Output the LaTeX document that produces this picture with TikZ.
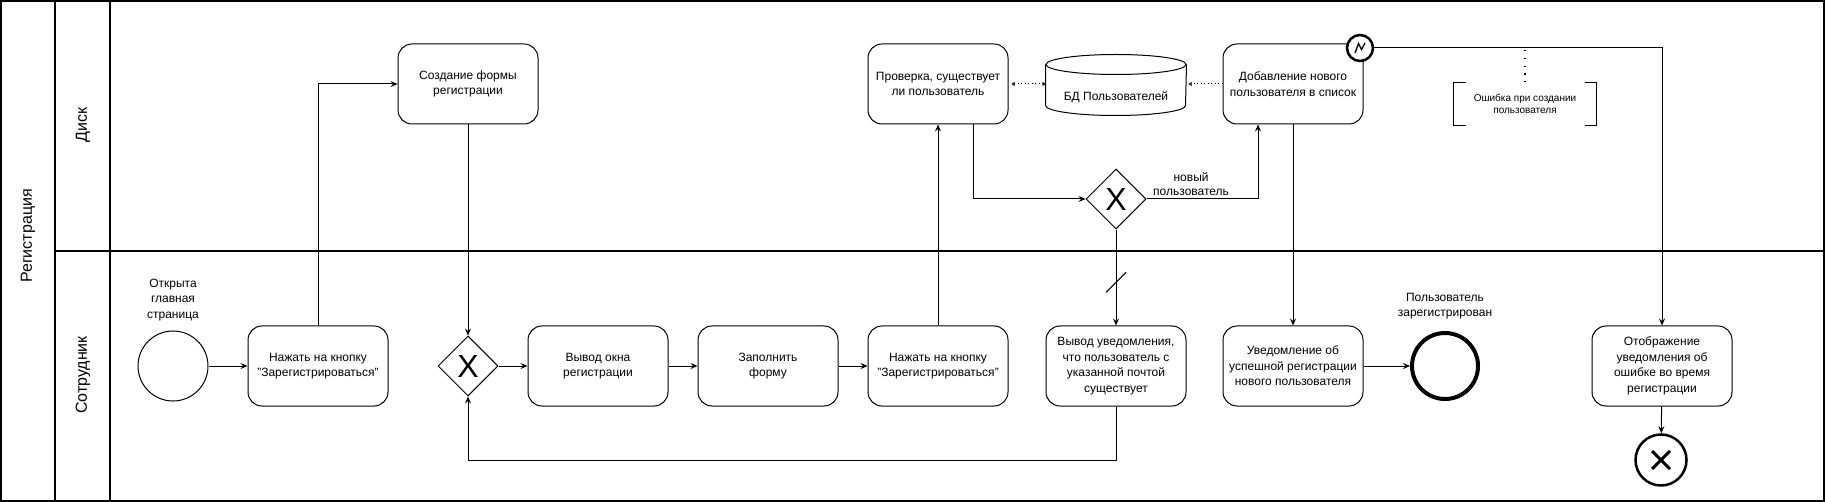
\documentclass[tikz,border=0pt]{standalone}
\usepackage{fontspec}
\setmainfont{Liberation Sans}
\usetikzlibrary{shapes.geometric, arrows.meta, positioning, calc}

\begin{document}
\begin{tikzpicture}[x=1pt, y=-1pt, line width=1pt,
    font=\fontsize{12}{15.5}\selectfont,
    task/.style={draw, rounded corners=14pt, minimum width=140pt, minimum height=80pt, align=center, inner sep=2pt},
    gate/.style={draw, diamond, minimum size=60pt, inner sep=0pt, font=\fontsize{32}{32}\selectfont},
    flow/.style={-{Stealth[length=7pt, width=6pt, inset=2.5pt]}},
    assoc/.style={dash pattern=on 1pt off 2.5pt},
    lanetitle/.style={rotate=90, font=\fontsize{16}{16}\selectfont},
    evlabel/.style={align=center},
    note/.style={minimum width=142pt, minimum height=42pt, align=center, font=\fontsize{10}{12}\selectfont}]
\useasboundingbox (0,0) rectangle (1825,502);

% pool and lanes
\draw[line width=2pt] (1,1) rectangle (1824,501);
\draw[line width=2pt] (55,1) -- (55,501);
\draw[line width=2pt] (110,1) -- (110,501);
\draw[line width=2pt] (55,251) -- (1824,251);
\node[lanetitle] at (28,236) {Регистрация};
\node[lanetitle] at (83,125) {Диск};
\node[lanetitle] at (83,375) {Сотрудник};

% lane "Сотрудник"
\node[draw, circle, minimum size=70pt] (start) at (173,366) {};
\node[evlabel, above=6pt of start] {Открыта\\главная\\страница};
\node[task] (t1) at (318,366) {Нажать на кнопку\\\symbol{34}Зарегистрироваться\symbol{34}};
\node[gate] (g1) at (468,366) {X};
\node[task] (win) at (598,366) {Вывод окна\\регистрации};
\node[task] (fill) at (768,366) {Заполнить\\форму};
\node[task] (t2) at (938,366) {Нажать на кнопку\\\symbol{34}Зарегистрироваться\symbol{34}};
\node[task] (vn) at (1116,366) {Вывод уведомления,\\что пользователь с\\указанной почтой\\существует};
\node[task] (succ) at (1293,366) {Уведомление об\\успешной регистрации\\нового пользователя};
\node[draw, circle, line width=4pt, minimum size=66pt] (endok) at (1445,366) {};
\node[evlabel, above=8pt of endok] {Пользователь\\зарегистрирован};
\node[task] (disp) at (1662,366) {Отображение\\уведомления об\\ошибке во время\\регистрации};
\node[draw, circle, line width=2.5pt, minimum size=51pt] (errend) at (1661,460) {};
\draw[line width=3pt] ([shift={(-9pt,-9pt)}]errend.center) -- ([shift={(9pt,9pt)}]errend.center);
\draw[line width=3pt] ([shift={(-9pt,9pt)}]errend.center) -- ([shift={(9pt,-9pt)}]errend.center);

% lane "Диск"
\node[task] (form) at (468,84) {Создание формы\\регистрации};
\node[task] (chk) at (938,84) {Проверка, существует\\ли пользователь};
\node[minimum width=140pt, minimum height=60pt] (db) at (1116,85) {};
\draw ([yshift=-10pt]db.north west) -- ([yshift=10pt]db.south west)
    arc[start angle=180, end angle=360, x radius=70pt, y radius=10pt] -- ([yshift=-10pt]db.north east);
\draw ([yshift=-10pt]db.north) ellipse [x radius=70pt, y radius=10pt];
\node at ([yshift=-12pt]db.center) {БД Пользователей};
\node[task] (add) at (1293,84) {Добавление нового\\пользователя в список};
\node[gate] (g2) at (1116,199) {X};
\node[draw, circle, line width=2.5pt, minimum size=26pt, fill=white] (errev) at (1360,48) {};
\draw[line width=1.3pt] ([shift={(-5pt,-5pt)}]errev.center) -- ([shift={(-1.5pt,4.5pt)}]errev.center)
    -- ([shift={(1.5pt,-1.5pt)}]errev.center) -- ([shift={(5pt,5pt)}]errev.center);
\node[note] (note) at (1525,104) {Ошибка при создании\\пользователя};
\draw ([xshift=12pt]note.north west) -- (note.north west) -- (note.south west) -- ([xshift=12pt]note.south west);
\draw ([xshift=-12pt]note.north east) -- (note.north east) -- (note.south east) -- ([xshift=-12pt]note.south east);

% sequence flows
\draw[flow] (start) -- (t1);
\draw[flow] (t1.north) |- (form.west);
\draw[flow] (form) -- (g1);
\draw[flow] (g1) -- (win);
\draw[flow] (win) -- (fill);
\draw[flow] (fill) -- (t2);
\draw[flow] (t2) -- (chk);
\draw[flow] ([xshift=35pt]chk.south) |- (g2.west);
\draw[flow] (g2.east) -| ([xshift=-35pt]add.south) node[pos=0.2, above, align=center, font=\fontsize{12}{14}\selectfont] {новый\\пользователь};
\draw[flow] (g2) -- (vn);
\draw ($(g2.south)!0.55!(vn.north)$) +(-10pt,-10pt) -- +(10pt,10pt);
\draw[flow] (vn.south) -- ++(0,54) -| (g1.south);
\draw[flow] (add) -- (succ);
\draw[flow] (succ) -- (endok);
\draw[flow] (errev.east) -| (disp.north);
\draw[flow] (disp) -- (errend);

% associations
\draw[assoc, {Triangle[open, length=3pt, width=4pt]}-{Triangle[open, length=3pt, width=4pt]}, shorten <=3pt] (chk.east) -- (chk.east -| db.west);
\draw[assoc, -{Triangle[open, length=3pt, width=4pt]}, shorten >=2pt] (add.west) -- (add.west -| db.east);
\draw[line width=1.3pt, dash pattern=on 1.3pt off 6.5pt] (note.north) -- (note.north |- errev.east);
\end{tikzpicture}
\end{document}
